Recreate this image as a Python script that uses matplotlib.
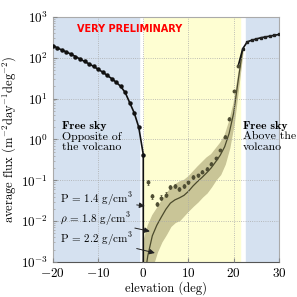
import numpy as np
import matplotlib
matplotlib.use("Agg")
import matplotlib.pyplot as plt

plt.rcParams['font.family'] = 'serif'
plt.rcParams['font.serif'] = ['cmr10', 'DejaVu Serif']
plt.rcParams['mathtext.fontset'] = 'cm'
plt.rcParams['axes.unicode_minus'] = False
plt.rcParams['axes.formatter.use_mathtext'] = True

# free sky, opposite side (log10 flux)
opp_el = np.arange(-20, 1)
opp_log = [2.30, 2.24, 2.19, 2.14, 2.09, 2.03, 1.97, 1.91, 1.85, 1.79, 1.72,
           1.65, 1.57, 1.49, 1.40, 1.30, 1.15, 0.90, 0.65, 0.30, -0.37]

# free sky, above the volcano
abv_el = np.arange(22, 31)
abv_log = [2.22, 2.39, 2.43, 2.46, 2.49, 2.51, 2.53, 2.55, 2.57]

# measured through the volcano
vol_el = np.arange(1, 22)
vol_log = [-1.05, -1.39, -1.58, -1.43, -1.35, -1.16, -1.13, -1.21, -1.14, -1.05,
           -0.92, -0.88, -0.79, -0.72, -0.59, -0.46, -0.26, 0.07, 0.51, 1.18, 1.80]
vol_err = [0.06, 0.06, 0.06, 0.06, 0.06, 0.05, 0.05, 0.05, 0.05, 0.04,
           0.04, 0.04, 0.04, 0.04, 0.03, 0.03, 0.03, 0.03, 0.03, 0.02, 0.02]

# simulation, rho = 1.4 / 1.8 / 2.2 g/cm3
sim_el = np.arange(0, 23)
sim_14 = [-2.50, -2.10, -1.85, -1.68, -1.50, -1.33, -1.20, -1.10, -1.03, -0.99, -0.90,
          -0.78, -0.66, -0.55, -0.44, -0.36, -0.22, -0.08, 0.10, 0.45, 0.90, 1.60, 2.22]
sim_18 = [-3.60, -2.85, -2.36, -2.10, -1.90, -1.71, -1.56, -1.48, -1.43, -1.37, -1.27,
          -1.14, -1.03, -0.93, -0.82, -0.70, -0.55, -0.39, -0.18, 0.15, 0.65, 1.45, 2.22]
sim_22 = [-3.60, -3.50, -3.10, -2.75, -2.50, -2.32, -2.12, -2.02, -1.97, -1.85, -1.73,
          -1.62, -1.52, -1.40, -1.30, -1.15, -0.98, -0.85, -0.60, -0.20, 0.40, 1.30, 2.22]

fig = plt.figure(figsize=(2.97, 2.97), dpi=100)
ax = fig.add_axes([0.178, 0.118, 0.761, 0.825])

ax.axvspan(-20, -1, color='#d5e1f0', zorder=0)
ax.axvspan(0.2, 21.4, color='#fefed2', zorder=0)
ax.axvspan(22.7, 30, color='#d5e1f0', zorder=0)

ax.fill_between(sim_el, 10**np.array(sim_14), 10**np.array(sim_22),
                color='#c9c597', zorder=1)
ax.plot(sim_el, 10**np.array(sim_18), color='#4b4a2c', lw=0.9, zorder=2)

ax.plot(list(opp_el) + [0], list(10**np.array(opp_log)) + [1e-4],
        color='#111111', lw=1.2, zorder=3)
ax.plot(opp_el, 10**np.array(opp_log), 'o', color='#111111', ms=2.2, zorder=4)

ax.plot([21] + list(abv_el), [10**1.80] + list(10**np.array(abv_log)),
        color='#111111', lw=1.2, zorder=3)
ax.plot(abv_el, 10**np.array(abv_log), 's', color='#222222', ms=2, zorder=4)

v = 10**np.array(vol_log)
e = np.array(vol_err)
ax.errorbar(vol_el, v, yerr=[v - v / 10**e, v * 10**e - v], fmt='o', color='#4f4e33',
            ms=1.8, elinewidth=0.6, capsize=1, capthick=0.5, zorder=4)

ax.set_yscale('log')
ax.set_xlim(-20, 30)
ax.set_ylim(1e-3, 1e3)
ax.set_xticks([-20, -10, 0, 10, 20, 30])
ax.tick_params(direction='in', labelsize=9.5, length=3, color='#888888')
ax.tick_params(which='minor', direction='in', length=1.5, color='#aaaaaa')
ax.grid(True, which='major', ls=':', color='#aaaaaa', lw=0.6)
ax.set_axisbelow(False)
for s in ['top', 'right', 'left']:
    ax.spines[s].set_color('#aaaaaa')
ax.spines['bottom'].set_color('#555555')

ax.set_xlabel('elevation (deg)', fontsize=9, labelpad=1)
ax.set_ylabel(r'average flux (m$^{-2}$day$^{-1}$deg$^{-2}$)', fontsize=9, labelpad=2)

ax.text(0.338, 0.951, 'VERY PRELIMINARY', transform=ax.transAxes, color='red',
        family='DejaVu Sans', fontweight='bold', fontsize=7, ha='center', va='center')

ax.text(-18.0, 10**0.34, 'Free sky', family='cmb10', fontsize=8.5, va='center')
ax.text(-18.0, 10**0.07, 'Opposite of', fontsize=8.5, va='center')
ax.text(-18.0, 10**-0.2, 'the volcano', fontsize=8.5, va='center')
ax.text(22.1, 10**0.34, 'Free sky', family='cmb10', fontsize=8.5, va='center')
ax.text(22.1, 10**0.07, 'Above the', fontsize=8.5, va='center')
ax.text(22.1, 10**-0.2, 'volcano', fontsize=8.5, va='center')

labels = [r'P = 1.4 g/cm$^3$', r'$\rho$ = 1.8 g/cm$^3$', r'P = 2.2 g/cm$^3$']
text_y = [-1.47, -1.96, -2.43]
head_x = [0.35, 1.46, 2.57]
head_y = [-1.63, -2.25, -2.78]
for lab, ty, hx, hy in zip(labels, text_y, head_x, head_y):
    ax.annotate(lab, xy=(hx, 10**hy), xytext=(-18.5, 10**ty), fontsize=8, va='center',
                arrowprops=dict(arrowstyle='-|>', color='#222222', lw=0.7,
                                mutation_scale=8, shrinkA=1, shrinkB=0))

fig.savefig('out.png', dpi=100)
